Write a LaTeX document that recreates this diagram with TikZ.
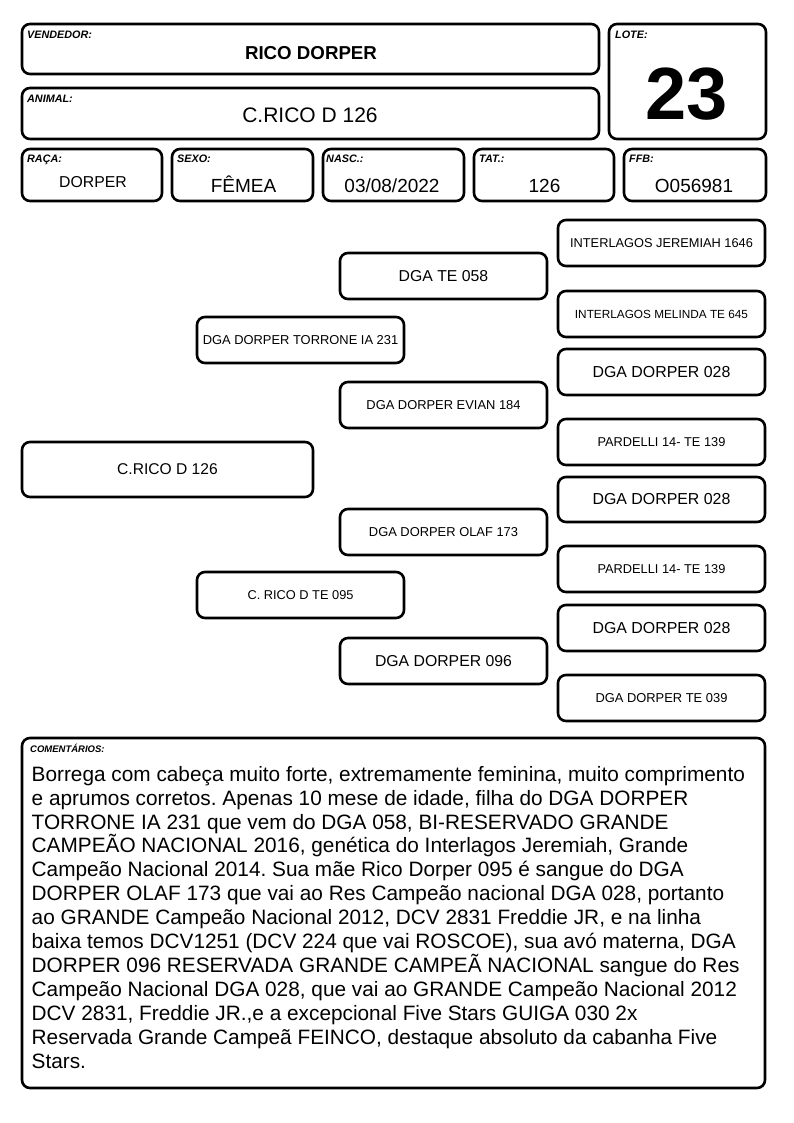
\documentclass[tikz,border=0pt]{standalone}
\usepackage{fontspec}
\setmainfont{Liberation Sans}
\usetikzlibrary{fit}
\frenchspacing
\newcommand\fs[1]{\fontsize{#1}{#1}\selectfont}
\newcommand\bx[7]{\node[box, fit={(#2,#3) (#4,#5)}] (#1) {};
  \node[inner sep=0pt, font=#6] (#1t) at (#1.center) {#7};}
\begin{document}
\begin{tikzpicture}[x=1pt,y=-1pt,
  box/.style={draw, line width=2.6pt, rounded corners=8pt, inner sep=0pt},
  lbl/.style={anchor=base west, inner sep=0pt, font=\fs{10.8}\bfseries\itshape},
  val/.style={anchor=base, inner sep=0pt}]
\useasboundingbox (0,0) rectangle (794,1123);
% header
\bx{vend}{22}{24}{599}{74}{}{}
\node[lbl] (vendl) at (27,39) {VENDEDOR:};
\node[val, font=\fs{18.7}\bfseries] (vendv) at (311,60) {RICO DORPER};
\bx{anim}{22}{88}{599}{139}{}{}
\node[lbl] (animl) at (27,103) {ANIMAL:};
\node[val, font=\fs{21}] (animv) at (310,123) {C.RICO D 126};
\bx{lote}{609}{24}{766}{139}{}{}
\node[lbl] (lotel) at (615,39) {LOTE:};
\node[val, font=\fs{74}\bfseries] (lotev) at (687,120) {23};
% row
\bx{raca}{22}{149}{162}{201}{}{}
\node[lbl] (racal) at (27,163) {RAÇA:};
\node[val, font=\fs{15.8}] (racav) at (93,188) {DORPER};
\bx{sexo}{172}{149}{313}{201}{}{}
\node[lbl] (sexol) at (177,163) {SEXO:};
\node[val, font=\fs{19}] (sexov) at (243.5,193) {FÊMEA};
\bx{nasc}{323}{149}{464}{201}{}{}
\node[lbl] (nascl) at (326,163) {NASC.:};
\node[val, font=\fs{19}] (nascv) at (392,193) {03/08/2022};
\bx{tat}{474}{149}{614}{201}{}{}
\node[lbl] (tatl) at (479,163) {TAT.:};
\node[val, font=\fs{19}] (tatv) at (544.5,193) {126};
\bx{ffb}{624}{149}{766}{201}{}{}
\node[lbl] (ffbl) at (629,163) {FFB:};
\node[val, font=\fs{19}] (ffbv) at (694,193) {O056981};
% pedigree
\bx{a}{22}{442}{313}{497}{\fs{15.6}}{C.RICO D 126}
\bx{p}{197}{317}{404}{363}{\fs{12.9}}{DGA DORPER TORRONE IA 231}
\bx{m}{197}{572}{404}{618}{\fs{12.8}}{C. RICO D TE 095}
\bx{pp}{340}{253}{547}{299}{\fs{15.8}}{DGA TE 058}
\bx{pm}{340}{382}{547}{428}{\fs{12.9}}{DGA DORPER EVIAN 184}
\bx{mp}{340}{509}{547}{555}{\fs{12.9}}{DGA DORPER OLAF 173}
\bx{mm}{340}{638}{547}{684}{\fs{15.8}}{DGA DORPER 096}
\bx{ppp}{558}{220}{765}{266}{\fs{12.8}}{INTERLAGOS JEREMIAH 1646}
\bx{ppm}{558}{291}{765}{337}{\fs{11.8}}{INTERLAGOS MELINDA TE 645}
\bx{pmp}{558}{349}{765}{395}{\fs{15.9}}{DGA DORPER 028}
\bx{pmm}{558}{419}{765}{465}{\fs{12.8}}{PARDELLI 14- TE 139}
\bx{mpp}{558}{477}{765}{522}{\fs{15.9}}{DGA DORPER 028}
\bx{mpm}{558}{546}{765}{592}{\fs{12.8}}{PARDELLI 14- TE 139}
\bx{mmp}{558}{605}{765}{651}{\fs{15.9}}{DGA DORPER 028}
\bx{mmm}{558}{675}{765}{721}{\fs{12.9}}{DGA DORPER TE 039}
% comments
\bx{com}{22}{738}{765}{1088}{}{}
\node[lbl, font=\fs{9.5}\bfseries\itshape] (coml) at (30,752) {COMENTÁRIOS:};
\node[anchor=base west, inner sep=0pt, align=left, font=\fontsize{20.8}{23.9}\selectfont] (comt) at (31.5,1068) {Borrega com cabeça muito forte, extremamente feminina, muito comprimento\\
e aprumos corretos. Apenas 10 mese de idade, filha do DGA DORPER\\
TORRONE IA 231 que vem do DGA 058, BI-RESERVADO GRANDE\\
CAMPEÃO NACIONAL 2016, genética do Interlagos Jeremiah, Grande\\
Campeão Nacional 2014. Sua mãe Rico Dorper 095 é sangue do DGA\\
DORPER OLAF 173 que vai ao Res Campeão nacional DGA 028, portanto\\
ao GRANDE Campeão Nacional 2012, DCV 2831 Freddie JR, e na linha\\
baixa temos DCV1251 (DCV 224 que vai ROSCOE), sua avó materna, DGA\\
DORPER 096 RESERVADA GRANDE CAMPEÃ NACIONAL sangue do Res\\
Campeão Nacional DGA 028, que vai ao GRANDE Campeão Nacional 2012\\
DCV 2831, Freddie JR.,e a excepcional Five Stars GUIGA 030 2x\\
Reservada Grande Campeã FEINCO, destaque absoluto da cabanha Five\\
Stars.};
\end{tikzpicture}
\end{document}
